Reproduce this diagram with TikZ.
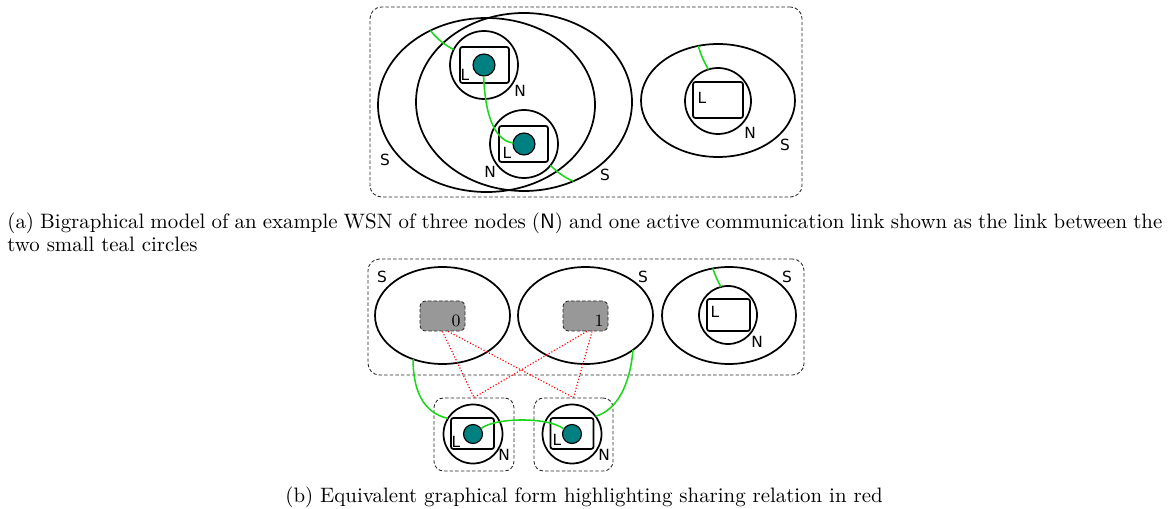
\documentclass[tikz,border=0pt]{standalone}
\usepackage{fontspec}
\newfontfamily\lblfont{DejaVu Sans}
\usetikzlibrary{shapes.geometric}
\definecolor{tealc}{RGB}{0,128,128}
\definecolor{grn}{RGB}{25,215,25}
\definecolor{dashc}{RGB}{40,40,40}
\definecolor{boxgray}{RGB}{152,152,152}
\def\u{0.52pt}
\begin{document}
\begin{tikzpicture}[x=0.52pt,y=-0.52pt,
  ell/.style={draw, ellipse, line width=0.9pt, inner sep=0, outer sep=0},
  ncirc/.style={draw, circle, line width=0.9pt, inner sep=0, outer sep=0, minimum size=#1*\u},
  lrect/.style={draw, rectangle, rounded corners=1.2pt, line width=0.9pt, inner sep=0},
  tealdot/.style={draw, circle, fill=tealc, line width=0.6pt, inner sep=0, outer sep=0, minimum size=#1*\u},
  frame/.style={draw=dashc, dashed, dash pattern=on 1.8pt off 1.1pt, rounded corners=6pt, line width=0.45pt, inner sep=0},
  gbox/.style={draw=dashc, dashed, dash pattern=on 1.8pt off 1.1pt, fill=boxgray, rounded corners=3pt, line width=0.45pt, inner sep=0, minimum width=45*\u, minimum height=30*\u},
  lbl/.style={font=\lblfont\fontsize{8}{9}\selectfont, inner sep=0},
  num/.style={font=\fontsize{9}{10}\selectfont, inner sep=0},
  captxt/.style={font=\fontsize{10.85}{12}\selectfont, inner sep=0},
  glink/.style={draw=grn, line width=0.8pt},
  share/.style={draw=red, densely dotted, line width=0.6pt}]
\useasboundingbox (0,0) rectangle (1170,509);

% ---------------- panel (a) ----------------
\node[frame, minimum width=432*\u, minimum height=190*\u] (frA) at (586,102) {};
\node[ell, minimum width=217*\u, minimum height=174*\u] (E1) at (486.5,105) {};
\node[ell, minimum width=216*\u, minimum height=178*\u] (E2) at (524,102) {};
\node[ncirc=68] (N1) at (484,65) {};
\node[lrect, minimum width=49*\u, minimum height=36*\u] (L1) at (484.5,65) {};
\node[tealdot=22] (T1) at (484,65) {};
\node[ncirc=68] (N2) at (524,144) {};
\node[lrect, minimum width=49*\u, minimum height=36*\u] (L2) at (523.5,144) {};
\node[tealdot=22] (T2) at (524,144) {};
\node[ell, minimum width=154*\u, minimum height=113*\u] (E3) at (718,100.5) {};
\node[ncirc=66] (N3) at (718,101) {};
\node[lrect, minimum width=50*\u, minimum height=36*\u] (L3) at (718,100) {};

\node[lbl] (sa1) at (385,160) {S};
\node[lbl] (sa2) at (605,175) {S};
\node[lbl] (la1) at (465,75) {L};
\node[lbl] (na1) at (520,91) {N};
\node[lbl] (la2) at (507,153) {L};
\node[lbl] (na2) at (490,172) {N};
\node[lbl] (la3) at (702,98) {L};
\node[lbl] (na3) at (750,133) {N};
\node[lbl] (sa3) at (785,145) {S};

\draw[glink] (E1.127) .. controls (438,40) and (445,45) .. (N1.153);
\draw[glink] (T1.268) .. controls (485,112) and (493,140) .. (T2.175);
\draw[glink] (N2.-39) .. controls (557,172) and (565,178) .. (E2.-58);
\draw[glink] (E3.110) .. controls (701,55) and (704,62) .. (N3.107);

% ---------------- panel (b) ----------------
\node[frame, minimum width=436*\u, minimum height=116*\u] (frB) at (586,317) {};
\node[ell, minimum width=135*\u, minimum height=97*\u] (EA) at (442.5,315.5) {};
\node[ell, minimum width=135*\u, minimum height=97*\u] (EB) at (585.5,315.5) {};
\node[ell, minimum width=134*\u, minimum height=97*\u] (EC) at (729,315.5) {};
\node[gbox] (B0) at (442.5,316) {};
\node[gbox] (B1) at (585.5,316) {};
\node[num] (n0) at (456,321) {0};
\node[num] (n1) at (599,321) {1};
\node[ncirc=58] (NC) at (728,315) {};
\node[lrect, minimum width=43*\u, minimum height=32*\u] (LC) at (728.5,315) {};

\node[frame, rounded corners=5pt, minimum width=80*\u, minimum height=73*\u] (D1) at (474,434.5) {};
\node[frame, rounded corners=5pt, minimum width=79*\u, minimum height=73*\u] (D2) at (573.5,434.5) {};
\node[ncirc=59] (N4) at (473,434) {};
\node[lrect, minimum width=43*\u, minimum height=31*\u] (L4) at (472.5,433.5) {};
\node[tealdot=19] (T4) at (473,434) {};
\node[ncirc=59] (N5) at (572,434) {};
\node[lrect, minimum width=43*\u, minimum height=31*\u] (L5) at (572,433.5) {};
\node[tealdot=19] (T5) at (572,434) {};

\node[lbl] (sb1) at (382,277) {S};
\node[lbl] (sb2) at (643,277) {S};
\node[lbl] (sb3) at (787,277) {S};
\node[lbl] (lb3) at (715,312) {L};
\node[lbl] (nb3) at (757,342) {N};
\node[lbl] (lb4) at (456,442) {L};
\node[lbl] (nb4) at (504,455) {N};
\node[lbl] (lb5) at (557,440) {L};
\node[lbl] (nb5) at (604,455) {N};

\draw[glink] (EC.109) .. controls (715,275) and (718,282) .. (NC.104);
\draw[glink] (EA.236) .. controls (413,390) and (423,413) .. (N4.148);
\draw[glink] (EB.-36) .. controls (630,385) and (617,410) .. (N5.37);
\draw[glink] (T4.34) .. controls (495,417) and (550,417) .. (T5.149);

\draw[share] (B0.south) -- (D1.north);
\draw[share] (B0.-70) -- (D2.north);
\draw[share] (B1.-85) -- (D1.north);
\draw[share] (B1.-67) -- (D2.north);

% ---------------- captions ----------------
\node[captxt, anchor=north west, text width=600.6pt, align=justify] (capA) at (7,212.5)
 {(a) Bigraphical model of an example WSN of three nodes (\textsf{N}) and one active communication link shown as the link between the\linebreak two small teal circles};
\node[captxt, anchor=base] (capB) at (584,502)
 {(b) Equivalent graphical form highlighting sharing relation in red};
\end{tikzpicture}
\end{document}
